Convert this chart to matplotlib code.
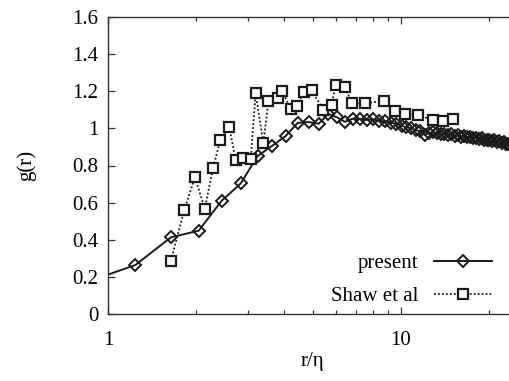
import matplotlib
matplotlib.use("Agg")
import matplotlib.pyplot as plt
from matplotlib.ticker import FixedLocator, NullFormatter

plt.rcParams['font.family'] = ['Liberation Serif', 'DejaVu Serif']
plt.rcParams['font.size'] = 15

# present (diamonds, solid line)
present_r = [0.84, 1.24, 1.64, 2.04, 2.44, 2.84, 3.24, 3.64, 4.04, 4.44, 4.84,
             5.24, 5.64, 6.04, 6.44, 6.84, 7.24, 7.64, 8.04, 8.44, 8.84, 9.24,
             9.64, 10.04, 10.44, 10.84, 11.24, 11.64, 12.04, 12.44, 12.84,
             13.24, 13.64, 14.04, 14.44, 14.84, 15.24, 15.64, 16.04, 16.44,
             16.84, 17.24, 17.64, 18.04, 18.44, 18.84, 19.24, 19.64, 20.04,
             20.44, 20.84, 21.24, 21.64, 22.04, 22.44, 22.84, 23.24, 23.64,
             24.04, 24.44, 24.84]
present_g = [0.17, 0.264, 0.413, 0.449, 0.609, 0.704, 0.851, 0.907, 0.959,
             1.030, 1.034, 1.025, 1.078, 1.060, 1.035, 1.052, 1.050, 1.046,
             1.048, 1.040, 1.038, 1.030, 1.025, 1.015, 1.005, 1.000, 0.990,
             0.985, 0.965, 0.975, 0.980, 0.975, 0.970, 0.972, 0.965, 0.968,
             0.960, 0.962, 0.955, 0.958, 0.952, 0.955, 0.948, 0.950, 0.943,
             0.946, 0.940, 0.936, 0.938, 0.932, 0.935, 0.928, 0.930, 0.922,
             0.925, 0.918, 0.915, 0.912, 0.910, 0.906, 0.904]

# Shaw et al (squares, dotted line)
shaw_r = [1.64, 1.82, 1.98, 2.14, 2.28, 2.42, 2.59, 2.73, 2.90, 3.07, 3.19,
          3.39, 3.53, 3.80, 3.93, 4.20, 4.41, 4.67, 4.95, 5.43, 5.80, 5.98,
          6.44, 6.79, 7.53, 8.72, 9.57, 10.3, 11.4, 12.9, 13.9, 15.0]
shaw_g = [0.286, 0.560, 0.737, 0.566, 0.785, 0.938, 1.008, 0.830, 0.839,
          0.834, 1.189, 0.920, 1.149, 1.162, 1.203, 1.104, 1.119, 1.198,
          1.206, 1.099, 1.126, 1.234, 1.225, 1.135, 1.135, 1.149, 1.096,
          1.078, 1.072, 1.045, 1.042, 1.049]

yticks = [0, 0.2, 0.4, 0.6, 0.8, 1, 1.2, 1.4, 1.6]
ytick_labels = ['0', '0.2', '0.4', '0.6', '0.8', '1', '1.2', '1.4', '1.6']

fig = plt.figure(figsize=(5.1, 3.81), dpi=100)
# axes runs to r=25, a little past the right edge of the picture
ax = fig.add_axes([108 / 510, 1 - 314 / 381, (517.6 - 108) / 510, (314 - 17) / 381])

ax.plot(present_r, present_g, color='#1a1a1a', lw=1.4, marker='D', ms=5.8,
        mfc='none', mec='#1a1a1a', mew=1.4, label='present')
ax.plot(shaw_r, shaw_g, color='#1a1a1a', lw=1.3, ls=(0, (1, 1.2)), marker='s',
        ms=6.5, mfc='white', mec='#1a1a1a', mew=1.6, label='Shaw et al')

ax.set_xscale('log')
ax.set_xlim(1, 25)
ax.set_ylim(0, 1.6)
ax.set_yticks(yticks)
ax.set_yticklabels(ytick_labels)
ax.xaxis.set_major_locator(FixedLocator([1, 10]))
ax.xaxis.set_minor_locator(FixedLocator([2, 3, 4, 5, 6, 7, 8, 9, 20]))
ax.xaxis.set_minor_formatter(NullFormatter())
ax.set_xticklabels(['1', '10'])

ax.tick_params(which='both', direction='in', top=True, right=True,
               color='#333333', labelsize=15)
ax.tick_params(axis='x', which='both', pad=12)
ax.tick_params(axis='y', which='both', pad=7)
ax.tick_params(which='major', length=5, width=0.9)
ax.tick_params(which='minor', length=3, width=0.9)
for s in ax.spines.values():
    s.set_color('#333333')
    s.set_linewidth(1.0)

ax.set_xlabel('r/η', fontsize=15, labelpad=2)
ax.set_ylabel('g(r)', fontsize=15, labelpad=26)

ax.legend(loc='lower right', bbox_to_anchor=((500 - 108) / 409.6, -0.002),
          frameon=False, markerfirst=False, numpoints=1,
          handlelength=2.75, handletextpad=0.75, labelspacing=0.65,
          fontsize=15, borderaxespad=0)

fig.savefig('out.png', dpi=100)
